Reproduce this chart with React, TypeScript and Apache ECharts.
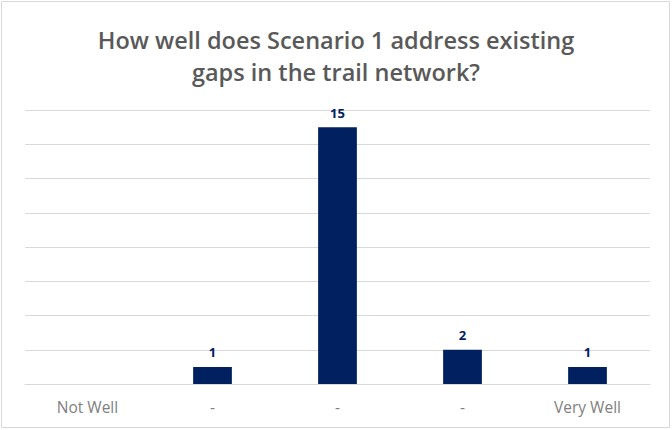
import React, { useEffect, useRef } from "react";
import * as echarts from "echarts";

const titleLines = ["How well does Scenario 1 address existing", "gaps in the trail network?"];
const categories = ["Not Well", "-", "-", "-", "Very Well"];
const values: (number | null)[] = [null, 1, 15, 2, 1];
const yMax = 16;
const yInterval = 2;

export default function App() {
  const ref = useRef<HTMLDivElement>(null);
  useEffect(() => {
    if (!ref.current) return;
    const chart = echarts.init(ref.current, null, { renderer: "svg" });
    chart.setOption({
      animation: false,
      backgroundColor: "#ffffff",
      title: {
        text: titleLines.join("\n"),
        left: "center",
        top: 19,
        textStyle: {
          fontFamily: "Open Sans",
          fontWeight: 600,
          fontSize: 23.5,
          lineHeight: 32,
          color: "#595959",
        },
      },
      grid: { left: 25, right: 22, top: 110, bottom: 46 },
      xAxis: {
        type: "category",
        data: categories,
        axisLine: { show: true, lineStyle: { color: "#d9d9d9" } },
        axisTick: { show: false },
        axisLabel: {
          color: "#808080",
          fontFamily: "Open Sans",
          fontSize: 15.5,
          margin: 15,
          interval: 0,
        },
      },
      yAxis: {
        type: "value",
        min: 0,
        max: yMax,
        interval: yInterval,
        axisLabel: { show: false },
        axisLine: { show: false },
        axisTick: { show: false },
        splitLine: { lineStyle: { color: "#d9d9d9", width: 1 } },
      },
      series: [
        {
          type: "bar",
          data: values,
          barWidth: "31%",
          itemStyle: { color: "#002060" },
          label: {
            show: true,
            position: "top",
            distance: 8,
            color: "#002060",
            fontFamily: "Open Sans",
            fontWeight: "bold",
            fontSize: 13,
          },
        },
      ],
      graphic: [
        {
          type: "rect",
          shape: { x: 1.5, y: 1.5, width: 668, height: 426 },
          style: { fill: "none", stroke: "#d9d9d9", lineWidth: 1 },
          silent: true,
        },
      ],
    });
    return () => chart.dispose();
  }, []);
  return (
    <div
      ref={ref}
      style={{ position: "fixed", left: 0, top: 0, width: 672, height: 430 }}
    />
  );
}
